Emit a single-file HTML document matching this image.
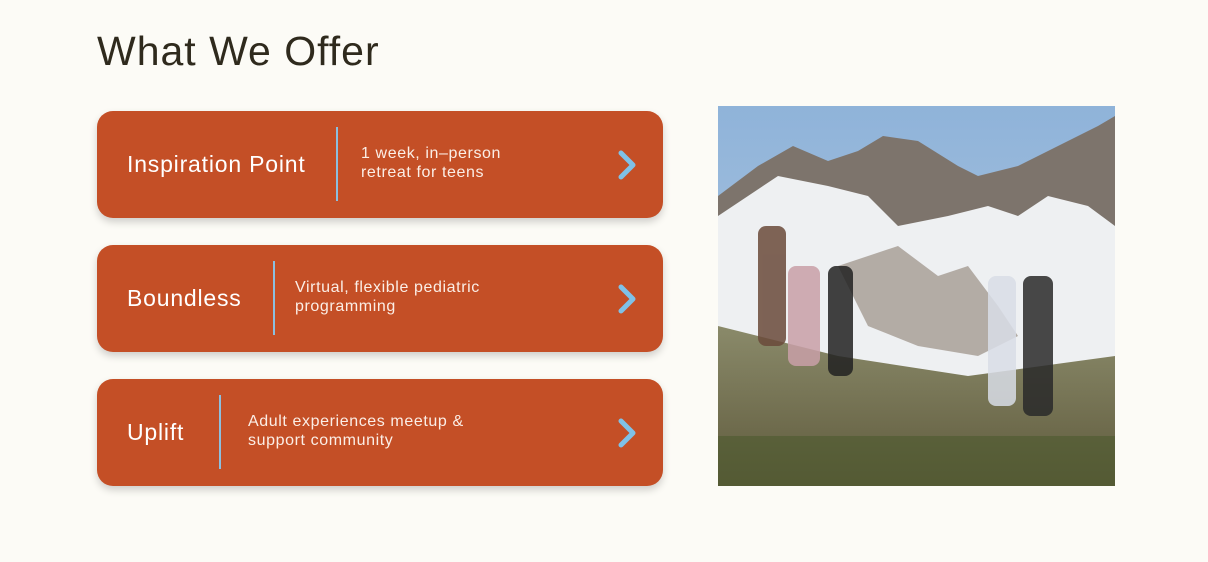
<!DOCTYPE html>
<html><head><meta charset="utf-8"><style>
body{margin:0;width:1208px;height:562px;background:#fcfbf6;font-family:"Liberation Sans",sans-serif;position:relative;overflow:hidden}
h1{position:absolute;left:97px;top:28px;margin:0;font-weight:400;font-size:41px;color:#2f2a1d;letter-spacing:1px}
.card{position:absolute;left:97px;width:566px;height:107px;background:#c44f26;border-radius:16px;box-shadow:0 4px 8px rgba(0,0,0,0.18);color:#fff}
.t{position:absolute;left:30px;top:0;line-height:107px;font-size:23px;letter-spacing:0.8px}
.d{position:absolute;top:33px;font-size:16px;line-height:19px;color:#fbeee6;letter-spacing:0.6px}
.div{position:absolute;top:16px;width:2px;height:74px;background:#8cbfdf}
.chev{position:absolute;left:518px;top:38px}
</style></head><body>
<h1>What We Offer</h1>

<div class="card" style="top:111px">
<div class="t">Inspiration Point</div>
<div class="div" style="left:239px"></div>
<div class="d" style="left:264px">1 week, in–person<br>retreat for teens</div>
<svg class="chev" width="24" height="32"><polyline points="6,4 18,16 6,28" fill="none" stroke="#7fc1e7" stroke-width="5" stroke-linecap="round" stroke-linejoin="round"/></svg>
</div>

<div class="card" style="top:245px">
<div class="t">Boundless</div>
<div class="div" style="left:176px"></div>
<div class="d" style="left:198px">Virtual, flexible pediatric<br>programming</div>
<svg class="chev" width="24" height="32"><polyline points="6,4 18,16 6,28" fill="none" stroke="#7fc1e7" stroke-width="5" stroke-linecap="round" stroke-linejoin="round"/></svg>
</div>

<div class="card" style="top:379px">
<div class="t">Uplift</div>
<div class="div" style="left:122px"></div>
<div class="d" style="left:151px">Adult experiences meetup &amp;<br>support community</div>
<svg class="chev" width="24" height="32"><polyline points="6,4 18,16 6,28" fill="none" stroke="#7fc1e7" stroke-width="5" stroke-linecap="round" stroke-linejoin="round"/></svg>
</div>

<svg style="position:absolute;left:718px;top:106px" width="397" height="380">
<defs><linearGradient id="sky" x1="0" y1="0" x2="0" y2="1"><stop offset="0" stop-color="#8fb3d9"/><stop offset="1" stop-color="#b8cde3"/></linearGradient>
<linearGradient id="gr" x1="0" y1="0" x2="0" y2="1"><stop offset="0" stop-color="#8a8a6a"/><stop offset="1" stop-color="#5f5a3c"/></linearGradient></defs>
<rect width="397" height="380" fill="url(#sky)"/>
<polygon points="0,90 40,60 75,40 110,55 140,45 165,30 200,35 240,60 260,70 300,60 340,40 380,20 397,10 397,300 0,300" fill="#7d746c"/>
<polygon points="0,110 60,70 110,80 150,90 180,120 230,110 270,100 300,110 330,90 370,100 397,120 397,300 0,300" fill="#eef0f2"/>
<polygon points="120,160 180,140 220,170 250,160 280,200 300,230 260,250 200,240 150,220" fill="#9a8f84" opacity="0.7"/>
<polygon points="0,220 120,250 250,270 397,250 397,380 0,380" fill="url(#gr)"/>
<rect x="0" y="330" width="397" height="50" fill="#4d5a2e" opacity="0.6"/>
<g opacity="0.85">
<rect x="40" y="120" width="28" height="120" rx="8" fill="#6a4a3a"/>
<rect x="70" y="160" width="32" height="100" rx="8" fill="#c9a0a8"/>
<rect x="110" y="160" width="25" height="110" rx="8" fill="#222"/>
<rect x="270" y="170" width="28" height="130" rx="8" fill="#d8dde6"/>
<rect x="305" y="170" width="30" height="140" rx="8" fill="#2a2a2a"/>
</g>
</svg>
</body></html>
